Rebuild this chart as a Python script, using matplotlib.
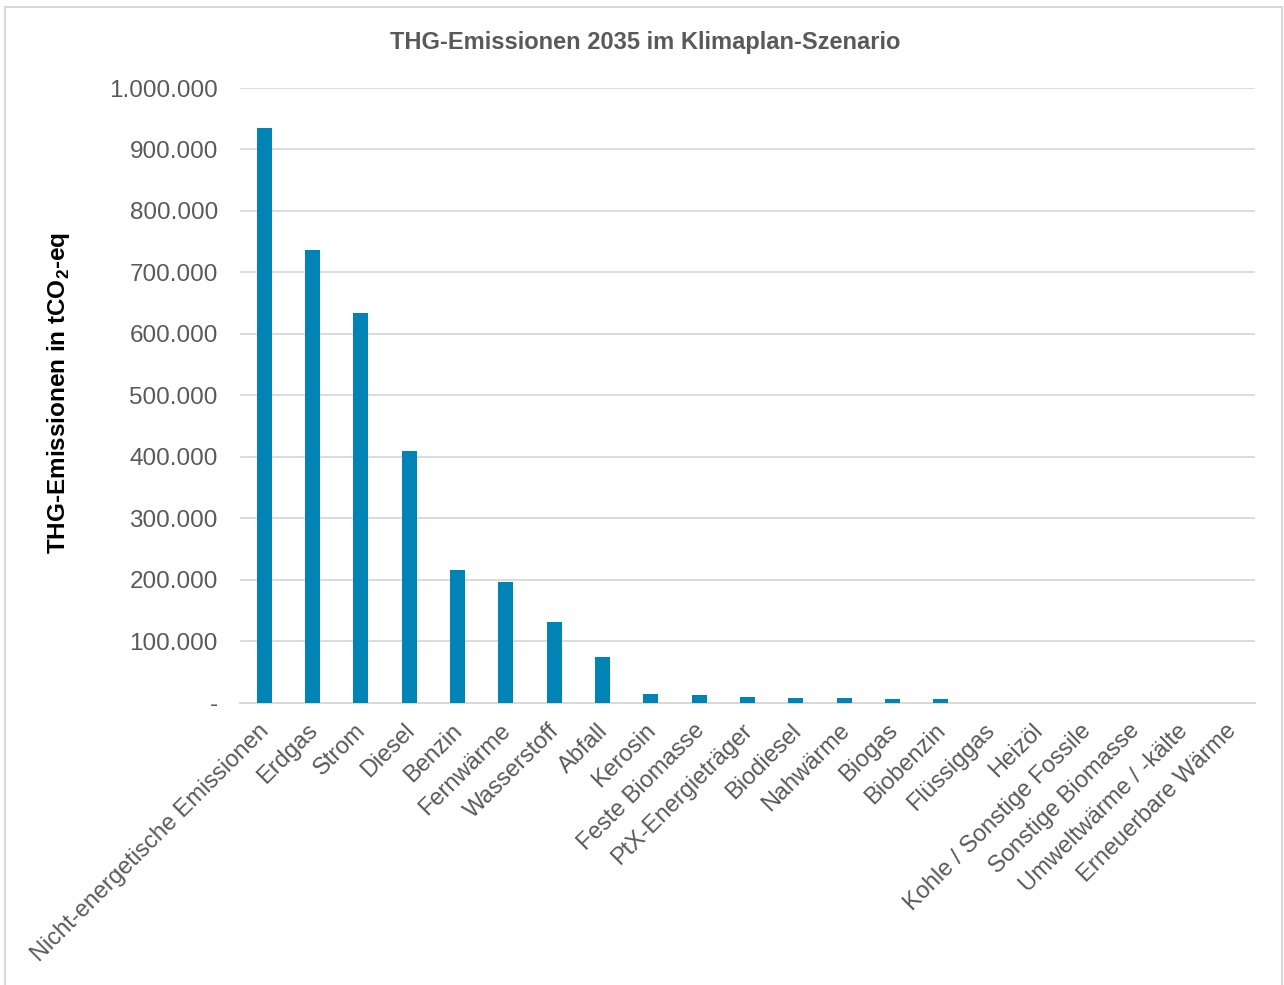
import matplotlib
matplotlib.use("Agg")
import matplotlib.pyplot as plt
import matplotlib.transforms as mtransforms
from matplotlib.patches import Rectangle
from matplotlib.ticker import FuncFormatter, MultipleLocator


categories = [
    "Nicht-energetische Emissionen", "Erdgas", "Strom", "Diesel", "Benzin",
    "Fernwärme", "Wasserstoff", "Abfall", "Kerosin", "Feste Biomasse",
    "PtX-Energieträger", "Biodiesel", "Nahwärme", "Biogas", "Biobenzin",
    "Flüssiggas", "Heizöl", "Kohle / Sonstige Fossile", "Sonstige Biomasse",
    "Umweltwärme / -kälte", "Erneuerbare Wärme",
]
emissions = [
    935000, 736000, 634000, 409000, 216000,
    196000, 131000, 74000, 13800, 11700,
    9500, 7800, 7500, 6200, 5800,
    0, 0, 0, 0, 0, 0,
]

BAR_COLOR = "#0084B6"
GRID_COLOR = "#D9D9D9"
TEXT_COLOR = "#595959"

plt.rcParams["font.family"] = ["Liberation Sans", "DejaVu Sans"]
plt.rcParams["mathtext.fontset"] = "custom"
plt.rcParams["mathtext.bf"] = "Liberation Sans:bold"
plt.rcParams["mathtext.rm"] = "Liberation Sans:bold"


def de_format(v, pos):
    if v == 0:
        return "-"
    return f"{int(round(v)):,}".replace(",", ".")


fig = plt.figure(figsize=(12.84, 9.85), dpi=100)
ax = fig.add_axes([240 / 1284, 1 - 702.5 / 985, 1015 / 1284, (702.5 - 88) / 985])

x = range(len(categories))
ax.bar(x, emissions, width=0.31, color=BAR_COLOR, zorder=3)

ax.set_xlim(-0.5, len(categories) - 0.5)
ax.set_ylim(0, 1000000)
ax.yaxis.set_major_locator(MultipleLocator(100000))
ax.yaxis.set_major_formatter(FuncFormatter(de_format))
ax.grid(axis="y", color=GRID_COLOR, linewidth=1.3, zorder=0)

for side in ["top", "right", "left"]:
    ax.spines[side].set_visible(False)
ax.spines["bottom"].set_color(GRID_COLOR)
ax.spines["bottom"].set_linewidth(1.5)

ax.tick_params(axis="y", length=0, pad=16, labelsize=17.5, labelcolor=TEXT_COLOR)
ax.tick_params(axis="x", length=0, pad=6, labelsize=17, labelcolor=TEXT_COLOR)
ax.set_xticks(list(x))
ax.set_xticklabels(categories, rotation=45, ha="right", va="top",
                   rotation_mode="anchor")

# nudge the slanted category labels a little down and to the left
shift = mtransforms.ScaledTranslation(-6 / 100, -9 / 100, fig.dpi_scale_trans)
for lbl in ax.get_xticklabels():
    lbl.set_transform(lbl.get_transform() + shift)

ax.set_ylabel(r"THG-Emissionen in tCO$_{\mathbf{2}}$-eq", fontsize=17.5,
              fontweight="bold", color="black")
ax.yaxis.set_label_coords(-0.166, 0.504)

fig.text(0.5 * (388 + 903) / 1284, 1 - 42 / 985,
         "THG-Emissionen 2035 im Klimaplan-Szenario",
         ha="center", va="center", fontsize=17, fontweight="bold",
         color=TEXT_COLOR)

# light frame around the chart area
fig.add_artist(Rectangle((5 / 1284, -0.05), 1277 / 1284, 1.05 - 7 / 985,
                         transform=fig.transFigure, fill=False,
                         edgecolor=GRID_COLOR, linewidth=1.5))

fig.savefig("out.png", dpi=100)
